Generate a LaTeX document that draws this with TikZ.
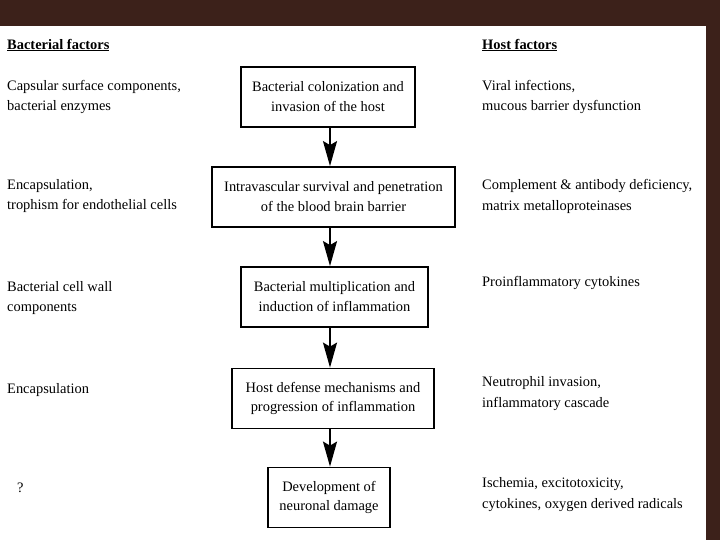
\documentclass[tikz,border=0pt]{standalone}
\usepackage{fontspec}
\setmainfont{Liberation Serif}
\usetikzlibrary{arrows.meta}
\definecolor{cadre}{RGB}{60,33,26}

\begin{document}
\begin{tikzpicture}[x=1bp, y=-1bp]
	\tikzset{etape/.style={rectangle, draw=black, line width=1.8bp, align=center, inner sep=0pt, font=\fontsize{14.5}{20}\selectfont},
	facteur/.style={anchor=west, align=left, inner sep=0pt, font=\fontsize{14.5}{21}\selectfont},
	titre/.style={anchor=west, inner sep=0pt, font=\bfseries\fontsize{14.5}{16}\selectfont},
	fleche/.style={line width=1.8bp, -{Stealth[length=25bp, width=14bp, inset=4bp]}}};

	% fond
	\fill[cadre] (0,0) rectangle (720,540);
	\fill[white] (0,26) rectangle (706,540);

	% colonne du milieu
	\foreach \name/\x/\y/\w/\txt in {b1/328/97/174/{Bacterial colonization and\\invasion of the host},
		b2/333.5/197/243/{Intravascular survival and penetration\\of the blood brain barrier},
		b3/334.5/297/187/{Bacterial multiplication and\\induction of inflammation},
		b4/333/398.5/202/{Host defense mechanisms and\\progression of inflammation},
		b5/329/497.5/122/{Development of\\neuronal damage}}{
		\node[etape, minimum width=\w bp, minimum height=60bp] (\name) at (\x, \y) {\txt};
	}

	\coordinate (axe) at (330, 0);
	\draw[fleche] (b1.south -| axe) -- (b2.north -| axe);
	\draw[fleche] (b2.south -| axe) -- (b3.north -| axe);
	\draw[fleche] (b3.south -| axe) -- (b4.north -| axe);
	\draw[fleche] (b4.south -| axe) -- (b5.north -| axe);

	% titres
	\node[titre] (bact) at (7, 45) {\underline{Bacterial factors}};
	\node[titre] (hote) at (482, 45) {\underline{Host factors}};

	% facteurs
	\foreach \name/\y/\txt in {g1/97/{Capsular surface components,\\bacterial enzymes},
		g2/196/{Encapsulation,\\trophism for endothelial cells},
		g3/298/{Bacterial cell wall\\components},
		g4/390/{Encapsulation}}{
		\node[facteur] (\name) at (7, \y) {\txt};
	}
	\node[facteur] (g5) at (17, 488) {?};

	\foreach \name/\y/\txt in {d1/97/{Viral infections,\\mucous barrier dysfunction},
		d2/196/{Complement \& antibody deficiency,\\matrix metalloproteinases},
		d3/283/{Proinflammatory cytokines},
		d4/394/{Neutrophil invasion,\\inflammatory cascade},
		d5/495/{Ischemia, excitotoxicity,\\cytokines, oxygen derived radicals}}{
		\node[facteur] (\name) at (482, \y) {\txt};
	}

\end{tikzpicture}
\end{document}
